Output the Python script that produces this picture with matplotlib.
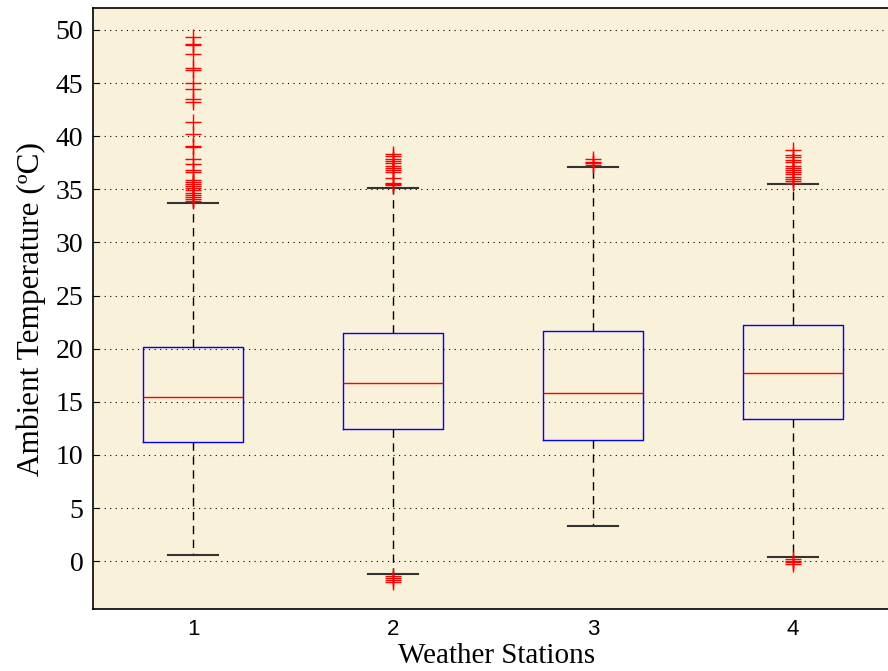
import matplotlib
matplotlib.use("Agg")
import matplotlib.pyplot as plt

# ================================
# Datos
# ================================
estaciones = ["1", "2", "3", "4"]
q1 = [11.2, 12.4, 11.4, 13.4]
mediana = [15.5, 16.8, 15.8, 17.7]
q3 = [20.2, 21.5, 21.7, 22.2]
bigote_inf = [0.6, -1.2, 3.3, 0.4]
bigote_sup = [33.7, 35.1, 37.1, 35.5]

atipicos_1 = [49.3, 48.7, 48.6, 47.7, 46.4, 46.2, 45.0, 44.4, 43.5, 43.2,
              41.3, 40.2, 39.1, 39.0, 37.9, 37.4, 36.8, 36.6, 35.9, 35.7,
              35.5, 35.3, 35.1, 34.9, 34.7, 34.5, 34.3, 34.1, 33.9]
atipicos_2 = [38.3, 38.1, 37.9, 37.7, 37.5, 37.2, 37.0, 36.8, 36.6, 36.1,
              35.6, 35.5, 35.4, -1.4, -1.6, -1.8, -2.0]
atipicos_3 = [37.9, 37.6, 37.5, 37.3]
atipicos_4 = [38.7, 38.2, 38.0, 37.8, 37.6, 37.2, 37.0, 36.8, 36.6, 36.4,
              36.2, 36.0, 35.8, 35.6, 0.2, 0.0, -0.1, -0.3]
atipicos = [atipicos_1, atipicos_2, atipicos_3, atipicos_4]

stats = []
for i in range(len(estaciones)):
    stats.append({"label": estaciones[i], "q1": q1[i], "med": mediana[i],
                  "q3": q3[i], "whislo": bigote_inf[i], "whishi": bigote_sup[i],
                  "fliers": atipicos[i]})

# ================================
# Gráfica
# ================================
serif = ["Liberation Serif", "DejaVu Serif"]
fig = plt.figure(figsize=(8.88, 6.71), dpi=100)
ax = fig.add_axes([93/888, 1 - 609/671, 800/888, 601/671])
ax.set_facecolor("#f9f1da")

ax.bxp(stats, positions=[1, 2, 3, 4], widths=0.5,
       boxprops=dict(color="blue", linewidth=1),
       medianprops=dict(color="red", linewidth=1),
       whiskerprops=dict(color="black", linewidth=1, linestyle=(0, (6, 4))),
       capprops=dict(color="#333333", linewidth=1.5),
       flierprops=dict(marker="+", markeredgecolor="red", markersize=11,
                       markeredgewidth=1.0, linestyle="none"),
       capwidths=0.25)

ax.set_xlim(0.5, 4.5)
ax.set_ylim(-4.5, 52.07)
ax.set_yticks(range(0, 51, 5))
ax.yaxis.grid(True, linestyle=(0, (1, 4)), color="black", linewidth=0.8)
ax.set_axisbelow(True)
ax.tick_params(axis="y", direction="in", length=4, labelsize=20, pad=7)
ax.tick_params(axis="x", length=0, labelsize=16, pad=7)
for lbl in ax.get_yticklabels():
    lbl.set_family(serif)
for lbl in ax.get_xticklabels():
    lbl.set_family(["Liberation Sans Narrow", "Liberation Sans", "DejaVu Sans"])
for s in ax.spines.values():
    s.set_linewidth(1.2)

ax.set_ylabel("Ambient Temperature (ºC)", family=serif, fontsize=22.5)
ax.yaxis.set_label_coords(-47/800, 0.5)
ax.set_xlabel("Weather Stations", family=serif, fontsize=21)
ax.xaxis.set_label_coords(0.505, -0.056)

fig.savefig("out.png", dpi=100)
